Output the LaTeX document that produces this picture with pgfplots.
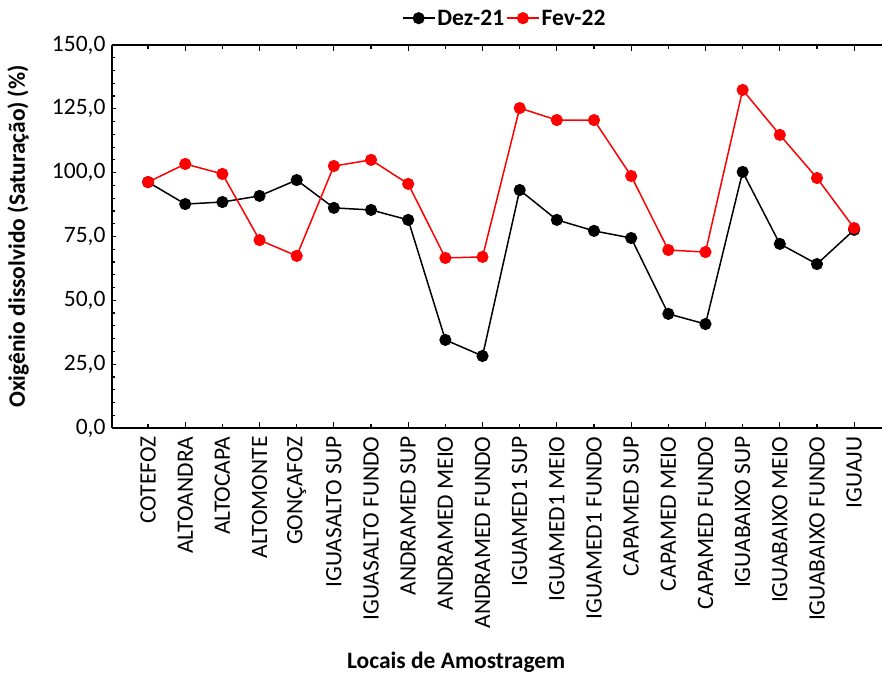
\documentclass[border=0pt]{standalone}
\usepackage{pgfplots}
\pgfplotsset{compat=1.18}
\usepackage{fontspec}
\setmainfont{Carlito}
\newcommand{\fs}{\fontsize{23.5}{28}\selectfont}
\begin{document}
\begin{tikzpicture}
\begin{axis}[
  scale only axis, width=770pt, height=383pt,
  xmin=-0.97, xmax=19.75, ymin=0, ymax=150,
  axis x line=box, axis y line=left,
  axis line style={-, line width=1.3pt},
  x axis line style={-}, y axis line style={-},
  tick align=inside,
  tick style={line width=1.2pt, black},
  major tick length=4pt, minor tick length=3pt,
  ytick={0,25,...,150}, minor y tick num=4,
  yticklabel style={font=\fs, xshift=-3pt, /pgf/number format/fixed, /pgf/number format/fixed zerofill, /pgf/number format/precision=1, /pgf/number format/use comma, /pgf/number format/assume math mode=true},
  xtick={0,...,19},
  xticklabels={COTEFOZ,ALTOANDRA,ALTOCAPA,ALTOMONTE,GONÇAFOZ,IGUASALTO SUP,IGUASALTO FUNDO,ANDRAMED SUP,ANDRAMED MEIO,ANDRAMED FUNDO,IGUAMED1 SUP,IGUAMED1 MEIO,IGUAMED1 FUNDO,CAPAMED SUP,CAPAMED MEIO,CAPAMED FUNDO,IGUABAIXO SUP,IGUABAIXO MEIO,IGUABAIXO FUNDO,IGUAJU},
  xticklabel style={font=\fs, rotate=90, anchor=east, xshift=-5pt},
  extra x ticks={1,3,...,19}, extra x tick labels={},
  extra x tick style={major tick length=6pt},
  xlabel={Locais de Amostragem},
  xlabel style={font=\fs\bfseries, at={(axis description cs:0.447,-0.611)}, anchor=center},
  ylabel={Oxigênio dissolvido (Saturação) (\%)},
  ylabel style={font=\fs\bfseries, at={(axis description cs:-0.122,0.5)}, anchor=center},
  legend style={at={(axis description cs:0.51,1.07)}, anchor=center, draw=none, fill=none,
    legend columns=2, font=\fs\bfseries,
    /tikz/every even column/.append style={column sep=0pt}},
  legend image code/.code={\draw[mark repeat=2,mark phase=2,#1] plot coordinates {(0pt,0pt) (16pt,0pt) (32pt,0pt)};},
  clip=false,
]
\addplot[black, line width=1.5pt, mark=*, mark size=5.3pt, mark options={solid, fill=black}] coordinates {
(0,96.3) (1,87.7) (2,88.5) (3,90.9) (4,97.1) (5,86.2) (6,85.4) (7,81.5) (8,34.5) (9,28.2)
(10,93.2) (11,81.5) (12,77.2) (13,74.4) (14,44.7) (15,40.7) (16,100.3) (17,72.1) (18,64.2) (19,77.6)};
\addlegendentry{Dez-21}
\addplot[red, line width=1.5pt, mark=*, mark size=5.3pt, mark options={solid, fill=red}] coordinates {
(0,96.3) (1,103.4) (2,99.5) (3,73.6) (4,67.4) (5,102.6) (6,105.0) (7,95.6) (8,66.6) (9,67.0)
(10,125.3) (11,120.6) (12,120.6) (13,98.7) (14,69.7) (15,68.9) (16,132.4) (17,114.8) (18,97.9) (19,78.3)};
\addlegendentry{Fev-22}
\coordinate (bbsw) at (axis description cs:-0.1455,-0.6449);
\coordinate (bbne) at (axis description cs:1.0,1.1175);
\end{axis}
\pgfresetboundingbox
\path[use as bounding box] (bbsw) rectangle (bbne);
\end{tikzpicture}
\end{document}
